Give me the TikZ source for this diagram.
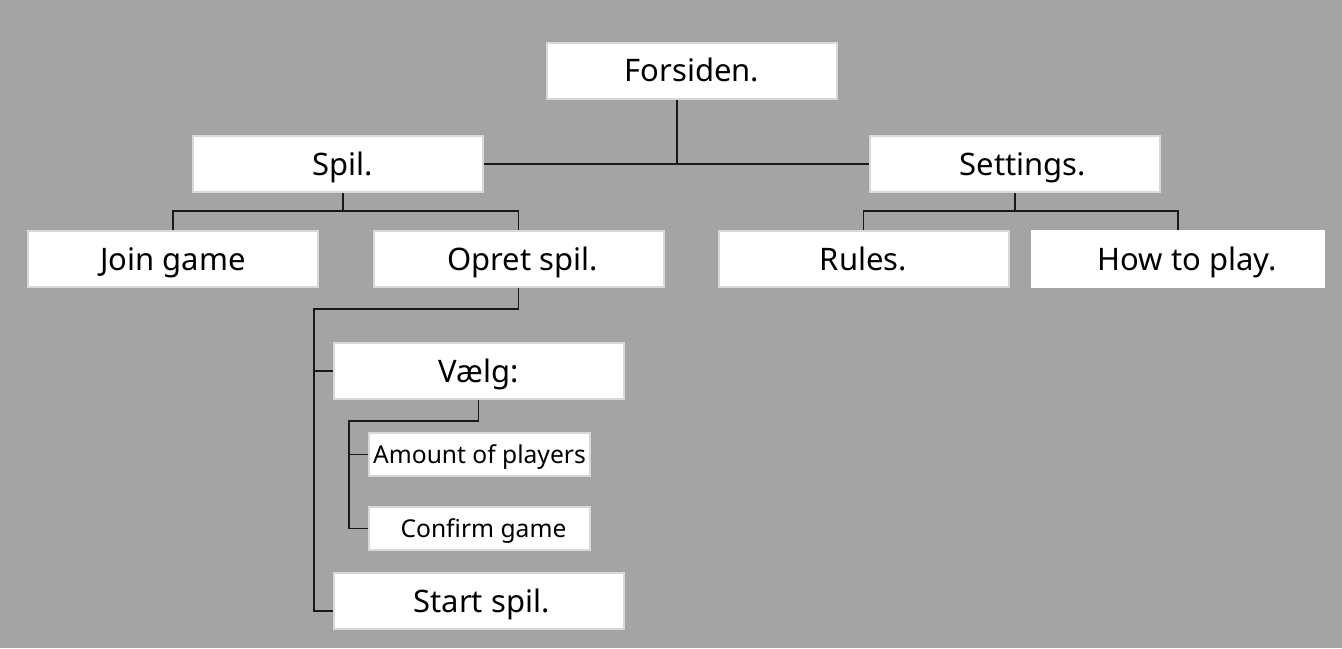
\documentclass[tikz,border=0pt]{standalone}
\usepackage{fontspec}
\setmainfont{Noto Sans}
\usetikzlibrary{positioning}
\definecolor{bggray}{RGB}{164,164,164}
\definecolor{boxline}{RGB}{216,216,216}
\tikzset{
  page/.style={fill=white, draw=boxline, line width=1pt, minimum width=145pt,
    minimum height=28pt, inner sep=0pt, text height=11pt, text depth=0pt,
    font=\fontsize{15.5}{18}\selectfont},
  subpage/.style={page, minimum width=110.5pt, minimum height=21.5pt,
    text height=8.8pt, font=\fontsize{12.3}{14}\selectfont},
  link/.style={line width=0.75pt, draw=black!90}
}
\begin{document}
\begin{tikzpicture}[x=0.5pt,y=-0.5pt]
      \fill[bggray] (0,0) rectangle (1342,648);
      \draw
        (692,70.5) node[page] (forsiden){Forsiden.}
        (337.5,164) node[page] (spil){\hspace{5pt}Spil.}
        (1015,164) node[page] (settings){\hspace{8pt}Settings.}
        (173,259) node[page] (join){Join game}
        (518.5,259) node[page] (opret){\hspace{4pt}Opret spil.}
        (863.5,259) node[page] (rules){Rules.}
        (1178,259) node[page, draw=white, minimum width=146pt] (howto){\hspace{9pt}How to play.}
        (478.5,371) node[page] (vaelg){Vælg:}
        (479.5,454.5) node[subpage] (amount){Amount of players}
        (479.5,528.5) node[subpage] (confirm){\hspace{4pt}Confirm game}
        (478.5,601) node[page] (start){\hspace{3pt}Start spil.};
      \coordinate (topfork) at (677,163);
      \coordinate (spilfork) at (343,211);
      \coordinate (setfork) at (1015,211);
      \coordinate (opretfork) at (314,309);
      \coordinate (vaelgfork) at (349,421);
      \begin{scope}[link]
        \draw (forsiden.south -| topfork) -- (topfork);
        \draw (spil.east) -- (settings.west);
        \draw (spil.south -| spilfork) -- (spilfork);
        \draw (join.north) |- (spilfork) -| (opret.north);
        \draw (settings.south) -- (setfork);
        \draw (rules.north) |- (setfork) -| (howto.north);
        \draw (opret.south) |- (opretfork) |- ([yshift=-5pt]start.west);
        \draw (opretfork) |- (vaelg.west);
        \draw (vaelg.south) |- (vaelgfork) |- (confirm.west);
        \draw (vaelgfork) |- (amount.west);
      \end{scope}
    \end{tikzpicture}
\end{document}
